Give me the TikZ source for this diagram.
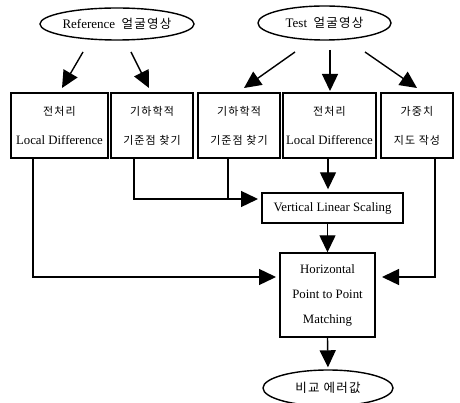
\documentclass[tikz,border=0pt]{standalone}
\usepackage{fontspec}
\setmainfont{Liberation Serif}
\newfontfamily\kr[LetterSpace=10]{Noto Sans CJK KR}
\usetikzlibrary{arrows.meta,shapes.geometric}
\newcommand\krs[1]{{\kr\fontsize{11}{13}\selectfont #1}}
\newcommand\krb[1]{{\kr\fontsize{12.5}{14}\selectfont #1}}
\begin{document}
\begin{tikzpicture}[x=1pt,y=-1pt,
  box/.style={draw,line width=1.4pt,inner sep=0pt,minimum height=65pt,align=center,font=\fontsize{12.8}{29}\selectfont},
  oval/.style={draw,ellipse,line width=1.4pt,inner sep=0pt,font=\fontsize{13}{15}\selectfont},
  arr/.style={line width=1.4pt,-{Triangle[length=17pt,width=16pt]}},
  link/.style={line width=1.4pt}]
\useasboundingbox[fill=white] (0,0) rectangle (460,403);
% ellipses
\node[oval,minimum width=148pt,minimum height=32pt] (ref) at (117,24) {Reference\ \ \krb{얼굴영상}};
\node[oval,minimum width=133pt,minimum height=34pt] (test) at (324.5,23) {Test\ \ \krb{얼굴영상}};
% boxes
\node[box,minimum width=97pt] (b1) at (59.5,125.5) {\krs{전처리}\\Local Difference};
\node[box,minimum width=82pt] (b2) at (152,125.5) {\krs{기하학적}\\\krs{기준점 찾기}};
\node[box,minimum width=82pt] (b3) at (239,125.5) {\krs{기하학적}\\\krs{기준점 찾기}};
\node[box,minimum width=93pt] (b4) at (329.5,125.5) {\krs{전처리}\\Local Difference};
\node[box,minimum width=72pt] (b5) at (417,125.5) {\krs{가중치}\\\krs{지도 작성}};
\node[box,minimum width=141pt,minimum height=30pt] (vls) at (332.5,208) {Vertical Linear Scaling};
\node[box,minimum width=95pt,minimum height=84pt,font=\fontsize{12.8}{25}\selectfont] (hp) at (327.5,295) {Horizontal\\Point to Point\\Matching};
\node[oval,minimum width=130pt,minimum height=36pt] (out) at (328,388) {\krb{비교 에러값}};
% arrow end points
\coordinate (r1s) at (83,52);  \coordinate (r1e) at (62,88);
\coordinate (r2s) at (131,52); \coordinate (r2e) at (149,88);
\coordinate (t1s) at (295,52); \coordinate (t1e) at (244,88);
\coordinate (t2s) at (330,50); \coordinate (t2e) at (330,91);
\coordinate (t3s) at (365,52); \coordinate (t3e) at (417,88);
\coordinate (vin) at (258,199);
\coordinate (hinl) at (276,277);
\coordinate (hinr) at (382,277);
\draw[arr] (r1s) -- (r1e);
\draw[arr] (r2s) -- (r2e);
\draw[arr] (t1s) -- (t1e);
\draw[arr] (t2s) -- (t2e);
\draw[arr] (t3s) -- (t3e);
\draw[link] ([xshift=-18pt]b2.south) |- ([xshift=-11pt]b3.south |- vin);
\draw[arr] ([xshift=-11pt]b3.south) |- (vin);
\draw[arr,shorten >=3pt] ([xshift=-1.5pt]b4.south) -- ([xshift=-1.5pt]b4.south |- vls.north);
\draw[arr] (vls.south -| hp.north) -- (hp.north);
\draw[arr] ([xshift=-26.5pt]b1.south) |- (hinl);
\draw[arr] ([xshift=18pt]b5.south) |- (hinr);
\draw[arr,shorten >=2pt] (hp.south) -- (out.north);
\end{tikzpicture}
\end{document}
